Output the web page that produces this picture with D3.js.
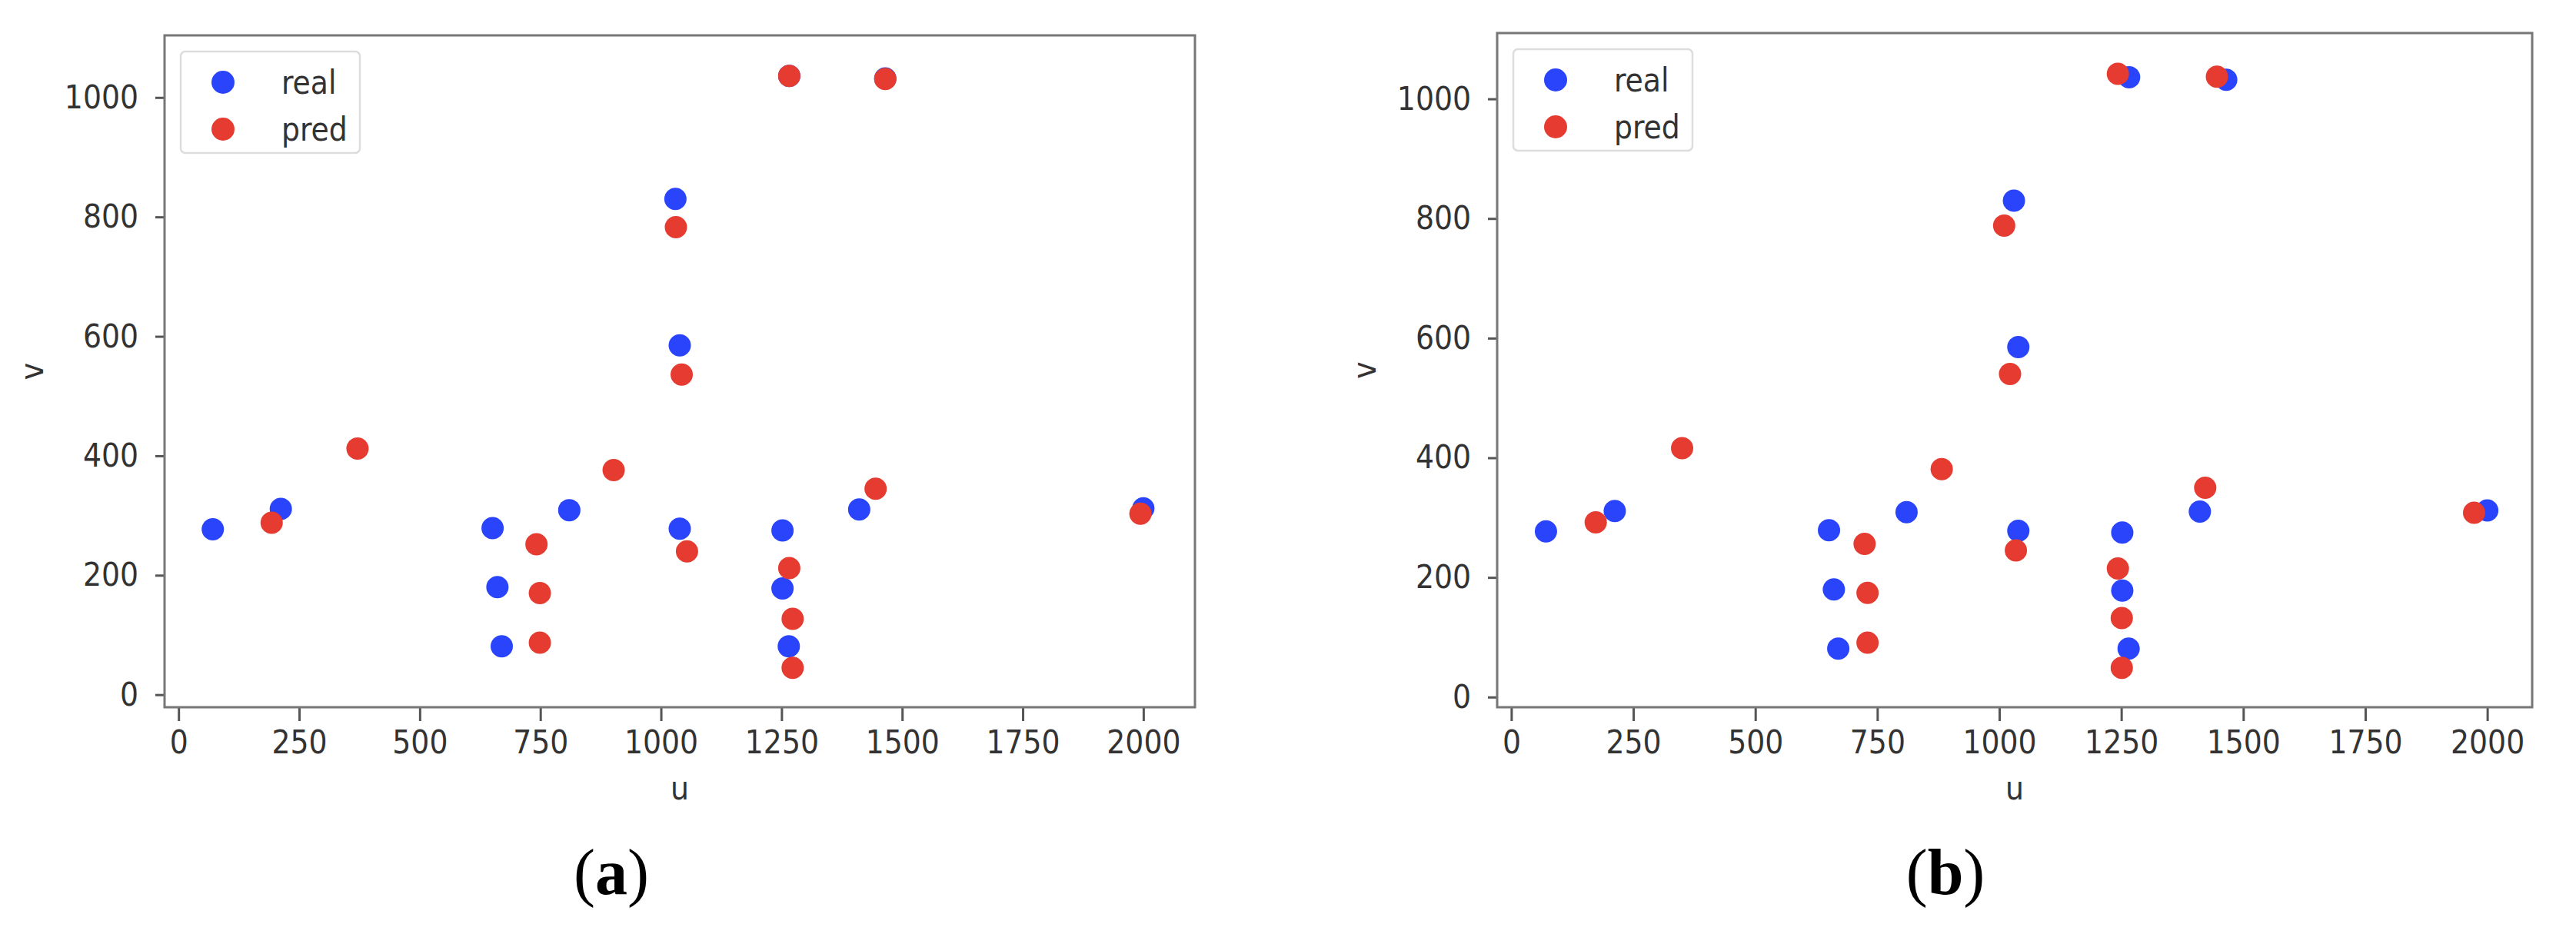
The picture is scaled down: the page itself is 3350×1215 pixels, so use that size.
<!DOCTYPE html>
<html>
<head>
<meta charset="utf-8">
<script src="https://cdn.jsdelivr.net/npm/d3@7"></script>
<style>
  body { margin: 0; background: #fff; }
  .tick text { font-family: 'DejaVu Sans Condensed', 'DejaVu Sans', sans-serif; font-stretch: condensed; fill: #333; }
  .lbl { font-family: 'DejaVu Sans Condensed', 'DejaVu Sans', sans-serif; font-stretch: condensed; fill: #333; }
  .cap { font-family: 'Liberation Serif', 'Times New Roman', serif; fill: #000; }
</style>
</head>
<body>
<div id="app"></div>
<script>
// values
var realU  = [71, 212, 651, 661, 670, 810, 1030, 1039, 1039, 1252, 1252, 1265, 1266, 1465, 1411, 2000];
var realV  = [277, 311, 279, 180, 81, 309, 830, 585, 278, 275, 178, 81, 1036, 1032, 310, 312];

var predUa = [193, 371, 742, 749, 749, 902, 1266, 1465, 1031, 1043, 1054, 1266, 1273, 1273, 1445, 1994];
var predVa = [288, 412, 252, 170, 87, 376, 1036, 1031, 783, 536, 240, 212, 127, 45, 345, 303];

var predUb = [173, 350, 724, 730, 730, 882, 1243, 1446, 1010, 1022, 1034, 1243, 1251, 1251, 1422, 1973];
var predVb = [292, 416, 256, 174, 91, 381, 1042, 1037, 788, 540, 245, 215, 132, 49, 350, 308];

var xTicks = [0, 250, 500, 750, 1000, 1250, 1500, 1750, 2000];
var yTicks = [0, 200, 400, 600, 800, 1000];
var seriesNames = ["real", "pred"];
var captions = ["a", "b"];

var blue = "#2a44fb", red = "#e53b30";
var fontPx = 42, dotR = 14.5;

var svg = d3.select("#app").append("svg")
    .attr("width", 3350)
    .attr("height", 1215)
    .style("background-color", "#fff");

var panels = [
    { left: 214,  right: 1554, top: 46, bottom: 920, xd: [-29, 2107], yd: [-21, 1104], pu: predUa, pv: predVa, cap: captions[0], capX: 795 },
    { left: 1947, right: 3293, top: 43, bottom: 920, xd: [-29, 2092], yd: [-17, 1110], pu: predUb, pv: predVb, cap: captions[1], capX: 2530 }
];

panels.forEach(function(p) {
    var x = d3.scaleLinear().domain(p.xd).range([p.left, p.right]);
    var y = d3.scaleLinear().domain(p.yd).range([p.bottom, p.top]);
    var g = svg.append("g");

    // x axis
    var xa = g.append("g")
        .attr("transform", "translate(0," + p.bottom + ")")
        .call(d3.axisBottom(x).tickValues(xTicks).tickFormat(d3.format("d"))
            .tickSizeInner(18).tickSizeOuter(0).tickPadding(12));
    // y axis
    var ya = g.append("g")
        .attr("transform", "translate(" + p.left + ",0)")
        .call(d3.axisLeft(y).tickValues(yTicks).tickFormat(d3.format("d"))
            .tickSizeInner(12).tickSizeOuter(0).tickPadding(22));
    [xa, ya].forEach(function(a) {
        a.select(".domain").remove();
        a.selectAll(".tick line").attr("stroke", "#555").attr("stroke-width", 3);
        a.selectAll(".tick text").style("font-size", fontPx + "px");
    });

    // frame
    g.append("rect")
        .attr("x", p.left).attr("y", p.top)
        .attr("width", p.right - p.left).attr("height", p.bottom - p.top)
        .attr("fill", "none")
        .attr("stroke", "#777")
        .attr("stroke-width", 3);

    // points: real first, pred drawn over
    var real = realU.map(function(u, i) { return [u, realV[i]]; });
    var pred = p.pu.map(function(u, i) { return [u, p.pv[i]]; });
    g.append("g").selectAll("circle").data(real).enter().append("circle")
        .attr("cx", function(d) { return x(d[0]); })
        .attr("cy", function(d) { return y(d[1]); })
        .attr("r", dotR)
        .attr("fill", blue);
    g.append("g").selectAll("circle").data(pred).enter().append("circle")
        .attr("cx", function(d) { return x(d[0]); })
        .attr("cy", function(d) { return y(d[1]); })
        .attr("r", dotR)
        .attr("fill", red);

    // axis labels
    g.append("text").attr("class", "lbl")
        .attr("x", (p.left + p.right) / 2).attr("y", 1040)
        .attr("text-anchor", "middle")
        .style("font-size", fontPx + "px")
        .text("u");
    g.append("text").attr("class", "lbl")
        .attr("transform", "translate(" + (p.left - 158) + "," + ((p.top + p.bottom) / 2) + ") rotate(-90)")
        .attr("text-anchor", "middle")
        .style("font-size", fontPx + "px")
        .text("v");

    // legend
    var lg = g.append("g").attr("transform", "translate(" + (p.left + 21) + "," + (p.top + 21) + ")");
    lg.append("rect")
        .attr("width", 233).attr("height", 132)
        .attr("rx", 6)
        .attr("fill", "#fff")
        .attr("stroke", "#ddd")
        .attr("stroke-width", 2.5);
    seriesNames.forEach(function(name, i) {
        lg.append("circle")
            .attr("cx", 55).attr("cy", 40 + i * 61)
            .attr("r", 15)
            .attr("fill", i ? red : blue);
        lg.append("text").attr("class", "lbl")
            .attr("x", 131).attr("y", 40 + i * 61)
            .attr("dy", "0.35em")
            .style("font-size", fontPx + "px")
            .text(name);
    });

    // caption
    var cap = svg.append("text").attr("class", "cap")
        .attr("x", p.capX).attr("y", 1163)
        .attr("text-anchor", "middle")
        .style("font-size", "84px");
    cap.append("tspan").text("(");
    cap.append("tspan").attr("font-weight", "bold").text(p.cap);
    cap.append("tspan").text(")");
});
</script>
</body>
</html>
